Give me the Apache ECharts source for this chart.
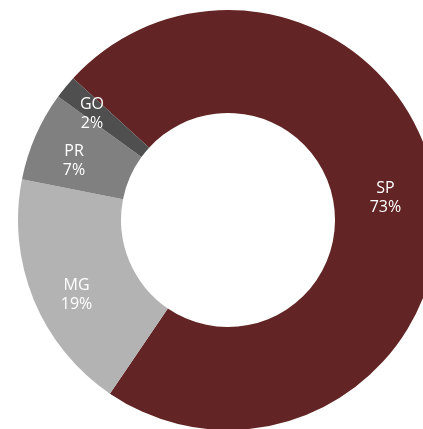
<!DOCTYPE html>
<html>
<head>
<meta charset="utf-8">
<script src="https://cdn.jsdelivr.net/npm/echarts@6/dist/echarts.min.js"></script>
<style>
  html, body { margin: 0; padding: 0; background: #fff; }
  #main { width: 423px; height: 429px; }
</style>
</head>
<body>
<div id="main"></div>
<script>
// 各州占比
var categories = ["SP", "MG", "PR", "GO"];
var values = [72.7, 18.6, 6.9, 1.8];
var colors = ["#622424", "#b3b3b3", "#808080", "#4f4f4f"];
// 标签微调偏移
var labelOffsets = [[-3, -3], [-2, 14], [-6, 6], [-11, -4]];

var myChart = echarts.init(document.getElementById("main"));

var option = {
  animation: false,
  series: [
    {
      type: "pie",
      center: [228, 220],
      radius: [107, 210],
      startAngle: 137.5,
      clockwise: true,
      avoidLabelOverlap: false,
      label: {
        show: true,
        position: "inside",
        color: "#ffffff",
        fontFamily: "Open Sans",
        fontSize: 16,
        lineHeight: 19,
        formatter: function (p) {
          return p.name + "\n" + Math.round(p.percent) + "%";
        }
      },
      labelLine: { show: false },
      data: categories.map(function (name, i) {
        return {
          name: name,
          value: values[i],
          itemStyle: { color: colors[i] },
          label: { offset: labelOffsets[i] }
        };
      })
    }
  ]
};

option && myChart.setOption(option);
</script>
</body>
</html>
